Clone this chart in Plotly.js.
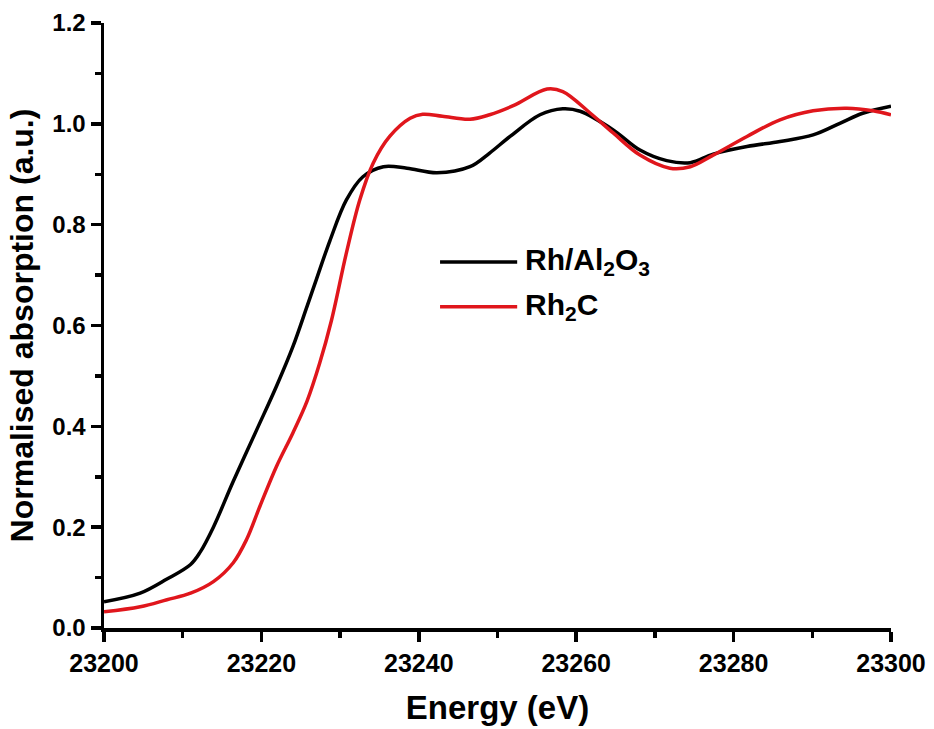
<!DOCTYPE html>
<html>
<head>
<meta charset="utf-8">
<script src="https://cdn.plot.ly/plotly-3.0.1.min.js"></script>
<style>html,body{margin:0;padding:0;background:#fff;}</style>
</head>
<body>
<div id="chart" style="width:934px;height:729px;"></div>
<script>
// Rh/Al2O3 series
const nameA = 'Rh/Al<sub>2</sub>O<sub>3</sub>';
const energyA = [23200,23204.6,23208,23211,23212.2,23213.9,23216.4,23219.4,23221.9,23224,23225.8,23227,23228.7,23230.8,23232.9,23235.5,23238.5,23242.3,23246.5,23249,23251.6,23255.4,23258.3,23260.5,23264.7,23268.1,23271.5,23274.5,23277.4,23281.7,23285.9,23290.1,23293.5,23296.4,23300];
const absA = [0.052,0.069,0.097,0.126,0.150,0.200,0.29,0.393,0.479,0.558,0.638,0.692,0.768,0.849,0.895,0.915,0.912,0.903,0.915,0.942,0.975,1.018,1.030,1.025,0.988,0.948,0.927,0.923,0.940,0.955,0.965,0.978,1.001,1.021,1.035];

// Rh2C series
const nameB = 'Rh<sub>2</sub>C';
const energyB = [23200,23204.6,23208,23211,23213.9,23216.4,23218.1,23219.8,23221.9,23224,23225.8,23227.4,23228.9,23230.8,23232.5,23234.2,23236.3,23238.9,23240.5,23243,23246.5,23249,23252,23256.3,23258.3,23261.8,23264.7,23268.1,23271.9,23274.5,23277.4,23281.7,23285.9,23290.1,23294.4,23297.7,23300];
const absB = [0.032,0.042,0.056,0.069,0.092,0.129,0.175,0.241,0.32,0.387,0.450,0.525,0.610,0.744,0.849,0.922,0.975,1.011,1.019,1.015,1.009,1.018,1.036,1.069,1.064,1.021,0.982,0.938,0.912,0.915,0.938,0.975,1.008,1.026,1.031,1.026,1.018];

const colorA = '#000000';
const colorB = '#e0161c';
const fontFam = 'Liberation Sans, Arial, sans-serif';

const traces = [
  {x: energyA, y: absA, name: nameA, type: 'scatter', mode: 'lines',
   line: {color: colorA, width: 3.5, shape: 'spline', smoothing: 1}, showlegend: false},
  {x: energyB, y: absB, name: nameB, type: 'scatter', mode: 'lines',
   line: {color: colorB, width: 3.5, shape: 'spline', smoothing: 1}, showlegend: false}
];

const legendItems = [
  {name: nameA, color: colorA, y: 0.605},
  {name: nameB, color: colorB, y: 0.531}
];

const shapes = legendItems.map(it => ({
  type: 'line', xref: 'paper', yref: 'paper',
  x0: 0.427, x1: 0.525, y0: it.y, y1: it.y,
  line: {color: it.color, width: 3.5}
}));
const annotations = legendItems.map(it => ({
  xref: 'paper', yref: 'paper', x: 0.533, y: it.y,
  xanchor: 'left', yanchor: 'middle', showarrow: false,
  text: it.name, font: {family: fontFam, size: 30, color: '#000', weight: 'bold'}
}));

const layout = {
  width: 934, height: 729,
  margin: {l: 104, r: 43, t: 23, b: 101},
  paper_bgcolor: '#fff', plot_bgcolor: '#fff',
  font: {family: fontFam, color: '#000'},
  xaxis: {
    range: [23200, 23300], tick0: 23200, dtick: 20, tickformat: 'd',
    showgrid: false, zeroline: false, showline: true, linewidth: 3.5, linecolor: '#000',
    ticks: 'outside', ticklen: 10, tickwidth: 3.5, tickcolor: '#000',
    minor: {dtick: 10, ticks: 'outside', ticklen: 6, tickwidth: 3.5, tickcolor: '#000'},
    tickfont: {family: fontFam, size: 25, weight: 'bold', color: '#000'},
    title: {text: 'Energy (eV)', standoff: 21, font: {family: fontFam, size: 33, weight: 'bold', color: '#000'}}
  },
  yaxis: {
    range: [0, 1.2], tick0: 0, dtick: 0.2, tickformat: '.1f',
    showgrid: false, zeroline: false, showline: true, linewidth: 3.5, linecolor: '#000',
    ticks: 'outside', ticklen: 10, tickwidth: 3.5, tickcolor: '#000',
    minor: {dtick: 0.1, ticks: 'outside', ticklen: 6, tickwidth: 3.5, tickcolor: '#000'},
    tickfont: {family: fontFam, size: 24, weight: 'bold', color: '#000'},
    title: {text: 'Normalised absorption (a.u.)', standoff: 10, font: {family: fontFam, size: 32, weight: 'bold', color: '#000'}}
  },
  shapes: shapes,
  annotations: annotations,
  showlegend: false
};

Plotly.newPlot('chart', traces, layout, {displayModeBar: false, staticPlot: true});
</script>
</body>
</html>
